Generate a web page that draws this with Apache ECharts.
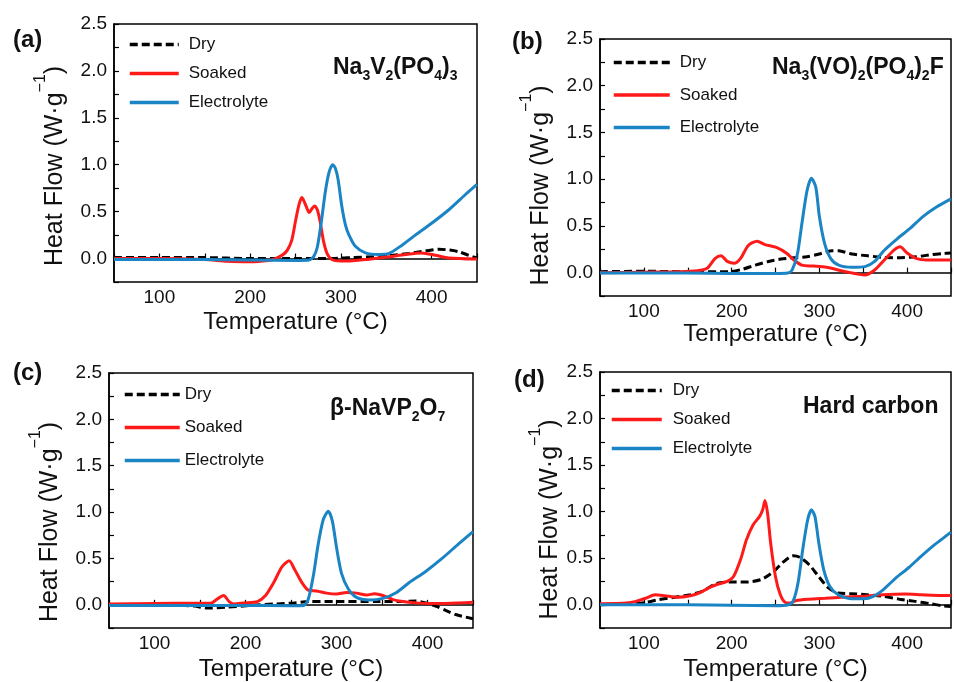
<!DOCTYPE html>
<html>
<head>
<meta charset="utf-8">
<script src="https://cdn.jsdelivr.net/npm/echarts@6/dist/echarts.min.js"></script>
<style>
  html, body { margin: 0; padding: 0; background: #fff; }
  #chart { width: 954px; height: 682px; }
</style>
</head>
<body>
<div id="chart"></div>
<script>
// [temperature °C, heat flow W/g]
// (a) Na3V2(PO4)3
const aDry = [[50,0.01],[100,0.01],[150,0.01],[200,0.0],[250,0.0],[275,0.0],[290,0.0],[310,0.01],[345,0.025],[375,0.055],[393,0.08],[408,0.1],[420,0.09],[430,0.072],[445,0.02],[450,0.01]];
const aSoaked = [[50,0.0],[100,0.0],[150,-0.01],[175,-0.03],[200,-0.035],[220,-0.02],[228,0.0],[236,0.04],[241,0.09],[246,0.2],[250,0.4],[254,0.58],[257,0.65],[259,0.62],[262,0.55],[265,0.49],[268,0.53],[271,0.56],[274,0.52],[277,0.4],[281,0.18],[285,0.05],[290,-0.01],[300,-0.025],[310,-0.025],[331,-0.007],[353,0.018],[371,0.043],[389,0.06],[404,0.036],[419,0.007],[450,-0.005]];
const aElectrolyte = [[50,-0.01],[100,-0.01],[150,-0.01],[200,-0.015],[250,-0.02],[265,-0.015],[270,0.02],[274,0.12],[278,0.36],[283,0.72],[287,0.92],[291,1.0],[294,0.96],[297,0.84],[301,0.56],[305,0.36],[309,0.25],[316,0.13],[327,0.06],[342,0.043],[353,0.054],[367,0.14],[382,0.25],[400,0.376],[419,0.52],[437,0.68],[450,0.79]];

// (b) Na3(VO)2(PO4)2F
const bDry = [[50,0.01],[100,0.015],[150,0.01],[197,0.01],[212,0.035],[227,0.08],[241,0.117],[256,0.145],[271,0.16],[286,0.17],[300,0.2],[315,0.235],[322,0.234],[337,0.2],[355,0.18],[374,0.163],[392,0.16],[411,0.17],[429,0.195],[441,0.205],[450,0.21]];
const bSoaked = [[50,0.0],[100,0.005],[140,0.01],[161,0.02],[172,0.046],[181,0.15],[188,0.18],[195,0.12],[203,0.1],[210,0.15],[219,0.29],[229,0.337],[238,0.3],[251,0.27],[263,0.205],[271,0.135],[280,0.08],[293,0.07],[308,0.057],[330,0.01],[352,-0.025],[363,0.028],[374,0.135],[385,0.24],[392,0.276],[400,0.21],[411,0.15],[422,0.135],[450,0.135]];
const bElectrolyte = [[50,-0.005],[100,-0.005],[150,-0.005],[200,-0.01],[250,-0.01],[264,-0.005],[269,0.03],[275,0.2],[280,0.52],[286,0.88],[291,1.01],[296,0.91],[300,0.6],[306,0.31],[313,0.15],[322,0.08],[337,0.057],[352,0.064],[363,0.12],[374,0.24],[389,0.365],[403,0.47],[418,0.6],[433,0.7],[450,0.79]];

// (c) β-NaVP2O7
const cDry = [[50,0.0],[100,0.0],[130,-0.005],[144,-0.014],[158,-0.035],[180,-0.025],[205,-0.007],[234,0.01],[253,0.02],[271,0.035],[307,0.035],[344,0.035],[373,0.035],[387,0.042],[398,0.02],[409,-0.014],[420,-0.06],[431,-0.105],[450,-0.15]];
const cSoaked = [[50,0.01],[100,0.015],[162,0.018],[169,0.063],[176,0.1],[182,0.035],[187,0.01],[198,0.02],[213,0.035],[222,0.1],[231,0.24],[240,0.41],[248,0.474],[254,0.38],[262,0.24],[269,0.158],[278,0.15],[289,0.126],[300,0.116],[311,0.133],[322,0.126],[333,0.105],[342,0.12],[351,0.1],[362,0.056],[373,0.035],[387,0.021],[402,0.014],[416,0.014],[434,0.02],[450,0.028]];
const cElectrolyte = [[50,-0.007],[100,-0.007],[150,-0.007],[200,-0.007],[250,-0.01],[264,-0.007],[269,0.06],[274.5,0.31],[280,0.66],[285.5,0.92],[291,1.01],[295.5,0.9],[300,0.62],[305.5,0.34],[313,0.17],[322,0.08],[336,0.053],[351,0.07],[365.5,0.13],[380,0.24],[398,0.36],[416,0.5],[434.5,0.66],[450,0.79]];

// (d) Hard carbon
const dDry = [[50,0.0],[87,0.01],[102,0.025],[116.5,0.054],[135,0.08],[153,0.107],[168,0.15],[182,0.225],[197,0.243],[215,0.243],[233.5,0.27],[248,0.357],[259,0.46],[270,0.525],[277.5,0.51],[288.4,0.43],[299.4,0.3],[310.4,0.18],[321.4,0.125],[336,0.118],[354,0.107],[372.6,0.09],[391,0.06],[409,0.036],[427.5,0.01],[439,-0.01],[450,-0.02]];
const dSoaked = [[50,0.01],[80,0.018],[91,0.036],[102,0.07],[113,0.107],[124,0.096],[138,0.08],[153,0.096],[164,0.13],[175,0.186],[186,0.225],[195,0.25],[202,0.3],[210,0.48],[217,0.7],[224.4,0.857],[231.7,0.946],[235.4,1.02],[238,1.12],[241,0.98],[244.5,0.66],[250,0.3],[255.5,0.107],[261,0.025],[266.5,0.018],[273.8,0.046],[288,0.06],[306.7,0.07],[328.7,0.082],[350.6,0.09],[372.6,0.107],[398,0.114],[416.5,0.107],[439,0.1],[450,0.1]];
const dElectrolyte = [[50,0.0],[100,0.0],[150,0.0],[200,-0.005],[250,-0.01],[264.6,0.0],[270,0.036],[275.6,0.23],[281,0.59],[286.6,0.91],[291,1.02],[295,0.946],[299.4,0.66],[305,0.375],[312,0.196],[321.4,0.107],[336,0.064],[350.6,0.064],[361.6,0.09],[372.6,0.16],[387,0.286],[402,0.4],[416.5,0.525],[431,0.643],[439,0.7],[450,0.78]];

const seriesNames = ['Dry', 'Soaked', 'Electrolyte'];
const panelLabels = ['(a)', '(b)', '(c)', '(d)'];
const formulas = [
  '{n|Na}{s|3}{n|V}{s|2}{n|(PO}{s|4}{n|)}{s|3}',
  '{n|Na}{s|3}{n|(VO)}{s|2}{n|(PO}{s|4}{n|)}{s|2}{n|F}',
  '{n|β-NaVP}{s|2}{n|O}{s|7}',
  '{n|Hard carbon}'
];
const panelData = [
  [aDry, aSoaked, aElectrolyte],
  [bDry, bSoaked, bElectrolyte],
  [cDry, cSoaked, cElectrolyte],
  [dDry, dSoaked, dElectrolyte]
];

const FONT = '"Liberation Sans", Arial, sans-serif';
const colors = ['#000000', '#ff1a1a', '#1b84c4'];

// layout of the four panels (pixels)
const grids = [
  { left: 114, top: 24, right: 477, bottom: 400 },
  { left: 600, top: 39, right: -9, bottom: 386 },
  { left: 109, top: 373, right: 481, bottom: 54 },
  { left: 600, top: 372, right: -10, bottom: 54 }
];
const xNameGaps = [28, 25, 29, 29];
const yNameGaps = [36, 36, 36, 27];
const yNameShift = [26, 36, 43, 39]; // pushes the y title down the axis
const labelPos = [[13, 28], [512, 30], [13, 361], [514, 368]];
const formulaPos = [[333, 53], [772, 53], [330, 394], [803, 392]];
const legendPos = [
  { left: 128, top: 36, itemWidth: 49, itemGap: 12, pad: 5 },
  { left: 612, top: 54, itemWidth: 56, itemGap: 15.5, pad: 5 },
  { left: 123, top: 386, itemWidth: 55, itemGap: 16, pad: 0 },
  { left: 610, top: 382, itemWidth: 50, itemGap: 12, pad: 6 }
];

const chart = echarts.init(document.getElementById('chart'));

const option = {
  animation: false,
  backgroundColor: '#fff',
  textStyle: { fontFamily: FONT },
  grid: grids.map(g => Object.assign({
    show: true, borderColor: '#000', borderWidth: 1.5, backgroundColor: 'transparent'
  }, g)),
  xAxis: grids.map((g, i) => ({
    gridIndex: i,
    type: 'value',
    min: 50, max: 450, interval: 50,
    axisLine: { show: true, lineStyle: { color: '#000', width: 1.5 } },
    axisTick: { inside: true, length: 5, lineStyle: { color: '#000', width: 1.2 } },
    axisLabel: {
      color: '#111', fontSize: 19, fontFamily: FONT, margin: 6,
      formatter: v => (v % 100 === 0 ? String(v) : '')
    },
    splitLine: { show: false },
    name: 'Temperature (°C)',
    nameLocation: 'middle',
    nameGap: xNameGaps[i],
    nameTextStyle: { color: '#111', fontSize: 24, fontFamily: FONT }
  })),
  yAxis: grids.map((g, i) => ({
    gridIndex: i,
    type: 'value',
    min: -0.25, max: 2.5, interval: 0.25,
    axisLine: { show: true, lineStyle: { color: '#000', width: 1.5 } },
    axisTick: { inside: true, length: 5, lineStyle: { color: '#000', width: 1.2 } },
    axisLabel: {
      color: '#111', fontSize: 19, fontFamily: FONT, margin: 7,
      formatter: v => {
        const h = v * 2;
        return (v >= 0 && Math.abs(h - Math.round(h)) < 1e-6) ? v.toFixed(1) : '';
      }
    },
    splitLine: { show: false },
    name: '{t|Heat Flow (W·g}{s|−1}{t|)}{gap| }',
    nameLocation: 'middle',
    nameGap: yNameGaps[i],
    nameTextStyle: {
      color: '#111', fontFamily: FONT,
      rich: {
        t: { fontSize: 25, color: '#111', fontFamily: FONT },
        s: { fontSize: 16, color: '#111', fontFamily: FONT, padding: [0, 0, 29, 0] },
        gap: { fontSize: 10, width: yNameShift[i] }
      }
    }
  })),
  title: [].concat(
    panelLabels.map((t, i) => ({
      text: t, left: labelPos[i][0], top: labelPos[i][1], padding: 0,
      textStyle: { fontSize: 24, fontWeight: 'bold', color: '#111', fontFamily: FONT }
    })),
    formulas.map((t, i) => ({
      text: t, left: formulaPos[i][0], top: formulaPos[i][1], padding: 0,
      textStyle: {
        fontFamily: FONT,
        rich: {
          n: { fontSize: 23, fontWeight: 'bold', color: '#111', fontFamily: FONT, lineHeight: 30 },
          s: { fontSize: 14, fontWeight: 'bold', color: '#111', fontFamily: FONT, verticalAlign: 'bottom' }
        }
      }
    }))
  ),
  legend: legendPos.map(l => ({
    data: seriesNames,
    orient: 'vertical',
    left: l.left, top: l.top, padding: 0,
    itemWidth: l.itemWidth, itemHeight: 14, itemGap: l.itemGap,
    selectedMode: false,
    itemStyle: { color: 'rgba(0,0,0,0)', borderColor: 'rgba(0,0,0,0)', borderWidth: 0, opacity: 0 },
    lineStyle: { width: 3.5 },
    textStyle: { fontSize: 17, color: '#111', fontFamily: FONT, padding: [0, 0, 0, l.pad] }
  })),
  series: []
};

panelData.forEach((set, i) => {
  set.forEach((data, k) => {
    option.series.push({
      name: seriesNames[k],
      type: 'line',
      xAxisIndex: i,
      yAxisIndex: i,
      data: data,
      showSymbol: false,
      symbol: 'none',
      smooth: 0.25,
      lineStyle: {
        color: colors[k],
        width: 3,
        type: k === 0 ? [8, 4] : 'solid'
      },
      itemStyle: { color: colors[k] }
    });
  });
});

chart.setOption(option);
</script>
</body>
</html>
